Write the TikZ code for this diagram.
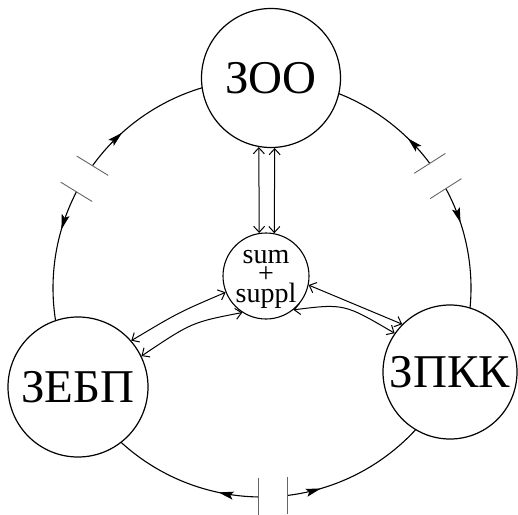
\documentclass[tikz,border=0pt]{standalone}
\usepackage{fontspec}
\setmainfont{Liberation Serif}
\usetikzlibrary{arrows.meta,calc,decorations.markings}
\begin{document}
\begin{tikzpicture}[x=1pt,y=-1pt,
  bignode/.style={circle,draw,line width=1.2pt,fill=white,inner sep=0pt,font=\fontsize{47}{47}\selectfont},
  hubnode/.style={circle,draw,line width=1.1pt,fill=white,minimum size=86pt,inner sep=0pt},
  hubtext/.style={inner sep=0pt,align=center,font=\fontsize{28}{19.5}\selectfont},
  ring/.style={line width=1.1pt},
  gapbar/.style={line width=0.9pt,draw=black!60},
  link/.style={line width=1pt,{Straight Barb[length=6pt,width=11pt]}-{Straight Barb[length=6pt,width=11pt]}},
  midarrow/.style={postaction={decorate},decoration={markings,mark=at position #1 with {\arrow{Stealth[length=15pt,width=8pt,inset=3pt]}}}},
]
\useasboundingbox (0,0) rectangle (518,514);
% outer ring arcs (centre 262,288; radius 209)
\draw[ring,midarrow=0.215] plot[domain=0:1,samples=80,variable=\t] ({262+209*cos(215.8+56.7*\t)},{288+209*sin(215.8+56.7*\t)});
\draw[ring,midarrow=0.20] plot[domain=0:1,samples=80,variable=\t] ({262+209*cos(207.4-55.7*\t)},{288+209*sin(207.4-55.7*\t)});
\draw[ring,midarrow=0.18] plot[domain=0:1,samples=80,variable=\t] ({262+209*cos(91.1+60.6*\t)},{288+209*sin(91.1+60.6*\t)});
\draw[ring,midarrow=0.16] plot[domain=0:1,samples=80,variable=\t] ({262+209*cos(83.1-59.1*\t)},{288+209*sin(83.1-59.1*\t)});
\draw[ring,midarrow=0.195] plot[domain=0:1,samples=80,variable=\t] ({262+209*cos(-28.4+52.4*\t)},{288+209*sin(-28.4+52.4*\t)});
\draw[ring,midarrow=0.18] plot[domain=0:1,samples=80,variable=\t] ({262+209*cos(-36.6-50.9*\t)},{288+209*sin(-36.6-50.9*\t)});
% gap bars (each pair parallel, across the gap)
\foreach \a/\d in {215.8/211.6,207.4/211.6,91.1/90,83.1/90,-28.4/-32.5,-36.6/-32.5}
  \draw[gapbar] ({262+209*cos(\a)-18.5*cos(\d)},{288+209*sin(\a)-18.5*sin(\d)}) -- ({262+209*cos(\a)+18.5*cos(\d)},{288+209*sin(\a)+18.5*sin(\d)});
% nodes
\node[bignode,minimum size=139pt] (zoo) at (271,78) {ЗОО};
\node[bignode,minimum size=140pt] (zebp) at (78,387) {ЗЕБП};
\node[bignode,minimum size=134pt] (zpkk) at (450,372) {ЗПКК};
\node[hubnode] (hub) at (266,276) {};
\node[hubtext] (hubtxt) at (266,279) {sum\\+\\suppl};
% links
\draw[link] (zoo.-100) -- (hub.99.4);
\draw[link] (zoo.-87.5) -- (hub.79.3);
\draw[link] (zebp.41.7) .. controls ($(zebp.41.7)!0.5!(hub.202.5)+(0,-4)$) .. (hub.202.5);
\draw[link] (zebp.26.2) .. controls ($(zebp.26.2)!0.5!(hub.237)+(0,-12)$) .. (hub.237);
\draw[link] (hub.-12.1) -- (zpkk.135.6);
\draw[link] (hub.-51.5) .. controls ($(hub.-51.5)!0.5!(zpkk.145.1)+(0,-18)$) .. (zpkk.145.1);
\end{tikzpicture}
\end{document}
